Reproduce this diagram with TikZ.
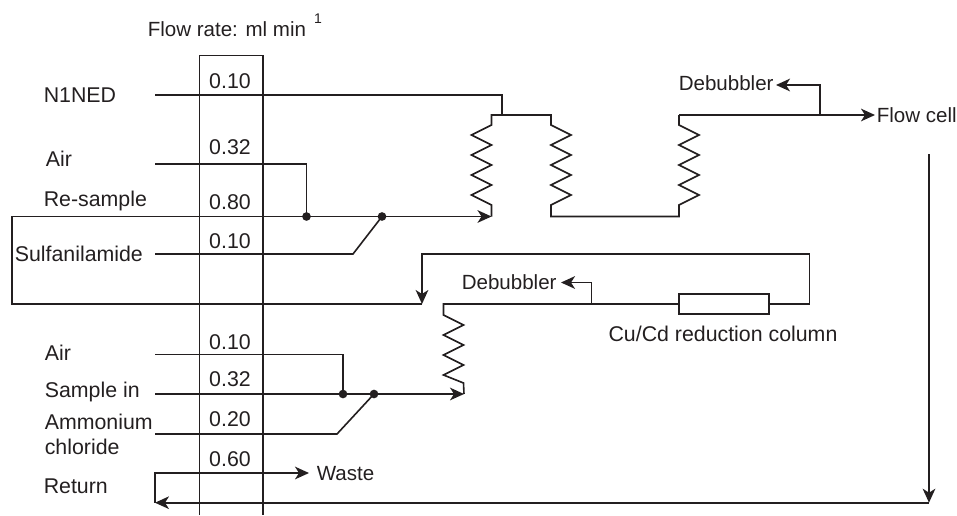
\documentclass[tikz,border=0pt]{standalone}
\usepackage{fontspec}
\setmainfont{Liberation Sans}
\usetikzlibrary{arrows.meta}
\definecolor{ink}{HTML}{231F20}

% zigzag parts of the coils
\newcommand{\coilR}{-- ++(20,10) -- ++(-20,10) -- ++(20,10) -- ++(-20,10) -- ++(20,10) -- ++(-20,10) -- ++(20,10) -- ++(-20,10)}
\newcommand{\coilU}[1]{-- ++(#1,-10) -- ++(-#1,-10) -- ++(#1,-10) -- ++(-#1,-10) -- ++(#1,-10) -- ++(-#1,-10) -- ++(#1,-10) -- ++(-#1,-10)}
\newcommand{\coilS}{-- ++(20,10) -- ++(-20,10) -- ++(20,10) -- ++(-20,10) -- ++(20,10) -- ++(-20,10) -- ++(20,8)}

\begin{document}
\begin{tikzpicture}[> = {Stealth[length = 10.5pt, width = 9.5pt, inset = 3pt]}, % arrow head style
                x = 0.75pt, y = -0.75pt, % reference pixels, y downwards
                line width = 1.2pt, draw = ink, text = ink
            ]

            \useasboundingbox (0,0) rectangle (957,515);

            \tikzstyle{every node}=[inner sep = 0pt, font = \fontsize{16}{19}\selectfont]
            \tikzstyle{lab}=[anchor = west]
            \tikzstyle{tight}=[font = \fontsize{15.4}{19}\selectfont]
            \tikzstyle{dot}=[circle, fill = ink, minimum size = 6.5pt]
            \tikzstyle{column}=[draw = ink, fill = white, minimum width = 67.5pt, minimum height = 15pt]

            % flow rate box
            \coordinate (b1) at (199.5,515); \coordinate (b2) at (199.5,55.5);
            \coordinate (b3) at (263,55.5); \coordinate (b4) at (263,515);
            \draw (b1) -- (b2) -- (b3) -- (b4);

            \node (head) [lab, tight] at (147,29) {Flow rate: ml min};
            \node (sup) [font = \fontsize{10.5}{12}\selectfont] at (318,18.5) {1};

            % rates
            \node (r1) at (230,81) {0.10};
            \node (r2) at (230,147.5) {0.32};
            \node (r3) at (230,202) {0.80};
            \node (r4) at (230,241) {0.10};
            \node (r5) at (230,342) {0.10};
            \node (r6) at (230,379) {0.32};
            \node (r7) at (230,419) {0.20};
            \node (r8) at (230,459) {0.60};

            % labels on the left
            \node (n1) [lab] at (43,95) {N1NED};
            \node (n2) [lab] at (45,159) {Air};
            \node (n3) [lab] at (43,201) {Re-sample};
            \node (n4) [lab] at (14,254) {Sulfanilamide};
            \node (n5) [lab] at (44,352.7) {Air};
            \node (n6) [lab] at (44,391.7) {Sample in};
            \node (n7) [lab] at (44,421.7) {Ammonium};
            \node (n8) [lab] at (44,446.7) {chloride};
            \node (n9) [lab] at (43,486.7) {Return};

            % labels on the right
            \node (deb1) [lab, tight] at (678,83) {Debubbler};
            \node (cell) [lab, tight] at (876,115) {Flow cell};
            \node (deb2) [lab, tight] at (461,282) {Debubbler};
            \node (cu) at (723,334) {Cu/Cd reduction column};
            \node (waste) [lab, tight] at (316,474) {Waste};

            % junctions
            \node (d1) [dot] at (306.5,216.5) {};
            \node (d2) [dot] at (382,216.5) {};
            \node (d3) [dot] at (343,394) {};
            \node (d4) [dot] at (374,394) {};

            % upper manifold
            \coordinate (a1) at (155,95); \coordinate (a2) at (502,95); \coordinate (a3) at (502,115);
            \draw (a1) -- (a2) -- (a3);
            \coordinate (a4) at (155,164); \coordinate (a5) at (306.5,164);
            \draw (a4) -- (a5) -- (d1.center);
            \coordinate (a6) at (155,254); \coordinate (a7) at (353,254);
            \draw (a6) -- (a7) -- (d2.center);

            % coils
            \coordinate (c1) at (491.5,115); \coordinate (c2) at (551,115);
            \coordinate (c3) at (551,216.5); \coordinate (c4) at (679,216.5);
            \coordinate (c5) at (679,115); \coordinate (c6) at (491.5,216.5);
            \draw (c6) -- (491.5,205) \coilU{-20} -- (c1) -- (c2) -- (551,125) \coilR -- (c3) -- (c4) -- (679,205) \coilU{20} -- (c5);

            % re-sample loop
            \coordinate (e1) at (422,304); \coordinate (e2) at (11.7,304); \coordinate (e3) at (11.7,216.5);
            \draw[->] (e1) -- (e2) -- (e3) -- (c6);
            \coordinate (e4) at (422,254); \coordinate (e5) at (809.5,254); \coordinate (e6) at (809.5,304);
            \node (col) [column] at (724,304) {};
            \draw[->] (col.east) -- (e6) -- (e5) -- (e4) -- (e1);

            % flow cell and first debubbler
            \coordinate (f1) at (875,115); \coordinate (f2) at (820,115); \coordinate (f3) at (820,85);
            \coordinate (f4) at (776,85);
            \draw[->] (c5) -- (f1);
            \draw[->] (f2) -- (f3) -- (f4);

            % lower coil and second debubbler
            \coordinate (g1) at (443.5,304); \coordinate (g2) at (591.5,304); \coordinate (g3) at (591.5,282.5);
            \coordinate (g4) at (561,282.5); \coordinate (g5) at (464,394);
            \draw[->] (g2) -- (g3) -- (g4);
            \draw (col.west) -- (g1) -- (443.5,315) \coilS -- (g5);

            % lower manifold
            \coordinate (h1) at (155,354.5); \coordinate (h2) at (343,354.5);
            \draw (h1) -- (h2) -- (d3.center);
            \coordinate (h3) at (155,394);
            \draw[->] (h3) -- (g5);
            \coordinate (h4) at (155,434); \coordinate (h5) at (337,434);
            \draw (h4) -- (h5) -- (d4.center);

            % return and waste
            \coordinate (k1) at (929,154); \coordinate (k2) at (929,502.7);
            \draw[->] (k1) -- (k2);
            \coordinate (k3) at (155,502.7); \coordinate (k4) at (155,473); \coordinate (k5) at (309,473);
            \draw[->] (k2) -- (k3);
            \draw[->] (k3) -- (k4) -- (k5);
        \end{tikzpicture}
\end{document}
